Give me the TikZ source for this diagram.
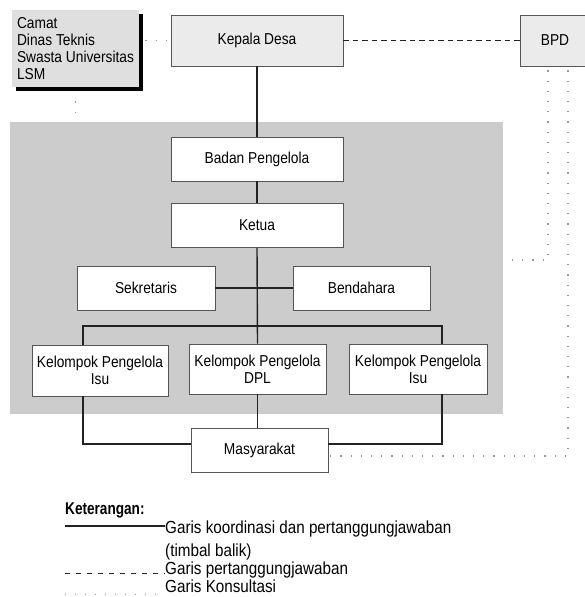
\documentclass[tikz,border=0pt]{standalone}
\usepackage{fontspec}
\setmainfont{Liberation Sans}
\newfontfamily\isi{Liberation Sans}[FakeStretch=0.87]
\newfontfamily\judul{Liberation Sans}[FakeStretch=0.8]
\usetikzlibrary{shadows}
\definecolor{abu}{HTML}{CCCCCC}
\definecolor{abumuda}{HTML}{EBEBEB}
\definecolor{tepi}{HTML}{555555}
\definecolor{garis}{HTML}{222222}
\begin{document}
\begin{tikzpicture}[x=1pt,y=-1pt,
	kotak/.style={draw=tepi,fill=white,line width=0.8pt,inner sep=0pt,align=center,font=\isi\fontsize{15.8}{17}\selectfont},
	kotakabu/.style={kotak,fill=abumuda},
	koordinasi/.style={color=garis,line width=1.4pt},
	tanggung/.style={color=garis,line width=1.5pt,dash pattern=on 5.5pt off 4pt},
	konsultasi/.style={color=gray!80,line width=1.2pt,dash pattern=on 1.2pt off 9pt},
	teks/.style={inner sep=0pt,font=\isi\fontsize{17.5}{20}\selectfont}]

\useasboundingbox (0,0) rectangle (584,597);

\node[fill=abu,minimum width=493pt,minimum height=292pt,inner sep=0pt] (area) at (256.5,268) {};

\node[kotakabu,draw=none,fill=abumuda!95!black,align=left,minimum width=127pt,minimum height=77pt,
	drop shadow={fill=black,opacity=1,shadow xshift=4pt,shadow yshift=-4pt}] (camat) at (75.5,48.5)
	{Camat\\Dinas Teknis\\Swasta Universitas\\LSM};
\node[kotakabu,minimum width=172pt,minimum height=51pt] (kepala) at (257,40.5) {Kepala Desa};
\node[kotakabu,minimum width=70pt,minimum height=51pt] (bpd) at (555,40.5) {BPD};

\node[kotak,minimum width=172pt,minimum height=44pt] (badan) at (257,159) {Badan Pengelola};
\node[kotak,minimum width=172pt,minimum height=44pt] (ketua) at (257,225.5) {Ketua};
\node[kotak,minimum width=138pt,minimum height=44pt] (sek) at (146,288) {Sekretaris};
\node[kotak,minimum width=137pt,minimum height=44pt] (ben) at (361.5,288) {Bendahara};

\node[kotak,minimum width=136pt,minimum height=51pt] (kpa) at (100,370.5) {Kelompok Pengelola\\Isu};
\node[kotak,minimum width=137pt,minimum height=50pt] (kpb) at (257.5,369) {Kelompok Pengelola\\DPL};
\node[kotak,minimum width=138pt,minimum height=50pt] (kpc) at (418,369) {Kelompok Pengelola\\Isu};
\node[kotak,minimum width=137pt,minimum height=44pt] (masy) at (259.5,450) {Masyarakat};

\coordinate (cabkiri) at (83,326);
\coordinate (cabkanan) at (442,326);

\draw[koordinasi] (kepala.south) -- (badan.north);
\draw[koordinasi] (badan.south) -- (ketua.north);
\draw[koordinasi] (ketua.south) -- (kpb.north);
\draw[koordinasi] (sek.east) -- (ben.west);
\draw[koordinasi] (cabkiri |- kpa.north) -- (cabkiri) -- (cabkanan) -- (cabkanan |- kpc.north);
\draw[koordinasi] (cabkiri |- kpa.south) |- ([yshift=6pt]masy.west);
\draw[koordinasi] (cabkanan |- kpc.south) |- ([yshift=6pt]masy.east);
\draw[koordinasi] (kpb.south) -- (kpb.south |- masy.north);

\draw[tanggung] (kepala.east) -- (bpd.west);

\draw[konsultasi] ([xshift=6pt]camat.east |- kepala.west) -- (kepala.west);
\draw[konsultasi] ([yshift=-14pt]camat.south) -- (camat.south |- area.north);
\draw[konsultasi] ([xshift=-7pt,yshift=-4pt]bpd.south) |- (area.east |- 0,260);
\draw[konsultasi] ([xshift=13pt,yshift=-4pt]bpd.south) |- ([yshift=-6pt]masy.east);

\node[teks,anchor=base west,font=\judul\fontsize{17}{20}\selectfont\bfseries] (ket) at (65,514) {Keterangan:};
\node[teks,anchor=base west] (ketsatu) at (165,533) {Garis koordinasi dan pertanggungjawaban};
\node[teks,anchor=base west] (ketsatub) at (165,556) {(timbal balik)};
\node[teks,anchor=base west] (ketdua) at (165,574) {Garis pertanggungjawaban};
\node[teks,anchor=base west] (kettiga) at (165,592) {Garis Konsultasi};

\coordinate (awalsatu) at (65,526);
\coordinate (awaldua) at (65,573);
\coordinate (awaltiga) at (65,594);
\draw[koordinasi] (awalsatu) -- (awalsatu -| ketsatu.west);
\draw[tanggung,line width=1pt,dash pattern=on 5pt off 6pt] (awaldua) -- (awaldua -| ketdua.west);
\draw[konsultasi,line width=1pt,dash pattern=on 1pt off 9pt] (awaltiga) -- (awaltiga -| kettiga.west);

\end{tikzpicture}
\end{document}
